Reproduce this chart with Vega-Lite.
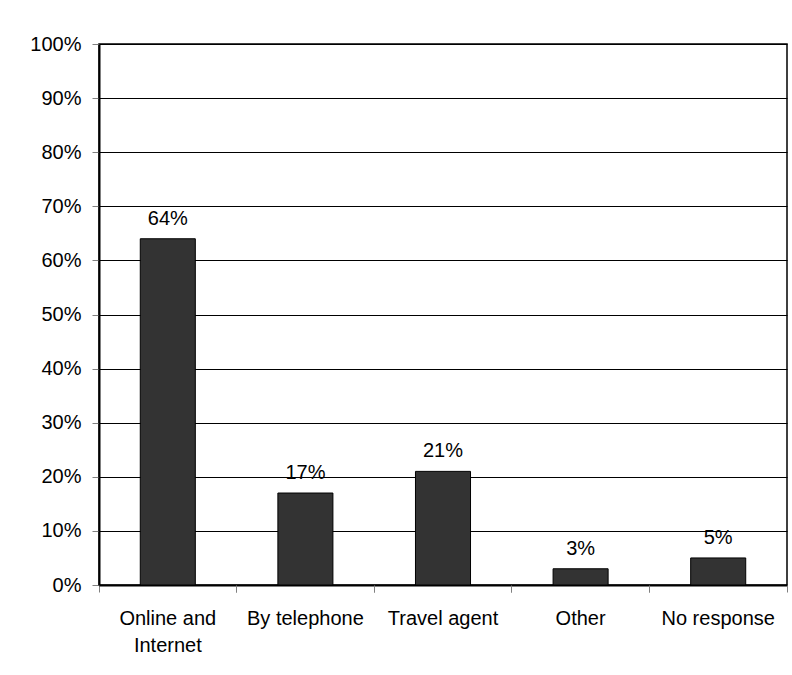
{
  "$schema": "https://vega.github.io/schema/vega-lite/v6.json",
  "width": 688,
  "height": 541,
  "autosize": {"type": "none"},
  "padding": {"left": 99, "top": 44, "right": 5, "bottom": 90},
  "background": "white",
  "config": {
    "font": "Liberation Sans",
    "view": {"stroke": "#000000", "strokeWidth": 1.5},
    "axis": {"labelColor": "#000000", "labelFont": "Liberation Sans", "labelFontSize": 20}
  },
  "data": {
    "values": [
      {"method": "Online and Internet", "pct": 0.64},
      {"method": "By telephone", "pct": 0.17},
      {"method": "Travel agent", "pct": 0.21},
      {"method": "Other", "pct": 0.03},
      {"method": "No response", "pct": 0.05}
    ]
  },
  "layer": [
    {
      "mark": {"type": "bar", "fill": "#333333", "stroke": "#000000", "strokeWidth": 1, "width": {"band": 0.4}},
      "encoding": {
        "x": {
          "field": "method", "type": "nominal", "sort": null,
          "scale": {"paddingInner": 0, "paddingOuter": 0},
          "axis": {"orient": "bottom", "title": null, "labels": false, "ticks": true, "bandPosition": 0, "tickSize": 7, "tickColor": "#808080", "tickWidth": 1, "domain": true, "domainColor": "#000000", "domainWidth": 2, "grid": false}
        },
        "y": {
          "field": "pct", "type": "quantitative",
          "scale": {"domain": [0, 1], "nice": false},
          "axis": {"title": null, "format": ".0%", "values": [0, 0.1, 0.2, 0.3, 0.4, 0.5, 0.6, 0.7, 0.8, 0.9, 1], "grid": true, "gridColor": "#000000", "gridWidth": 1, "gridOpacity": 1, "domain": true, "domainColor": "#000000", "domainWidth": 2, "tickSize": 7, "tickColor": "#808080", "tickWidth": 1, "labelPadding": 11}
        }
      }
    },
    {
      "mark": {"type": "text", "fontSize": 20, "color": "#000000", "baseline": "alphabetic", "dy": -14},
      "encoding": {
        "x": {
          "field": "method", "type": "nominal", "sort": null,
          "scale": {"paddingInner": 0, "paddingOuter": 0},
          "axis": {"orient": "bottom", "title": null, "labels": true, "ticks": true, "bandPosition": 1, "tickSize": 7, "tickColor": "#808080", "tickWidth": 1, "domain": false, "grid": false, "labelAngle": 0, "labelPadding": 16, "labelLineHeight": 27, "labelBaseline": "top", "labelExpr": "datum.label == 'Online and Internet' ? ['Online and', 'Internet'] : datum.label"}
        },
        "y": {"field": "pct", "type": "quantitative", "scale": {"domain": [0, 1], "nice": false}},
        "text": {"field": "pct", "type": "quantitative", "format": ".0%"}
      }
    }
  ],
  "resolve": {"axis": {"x": "independent"}}
}
